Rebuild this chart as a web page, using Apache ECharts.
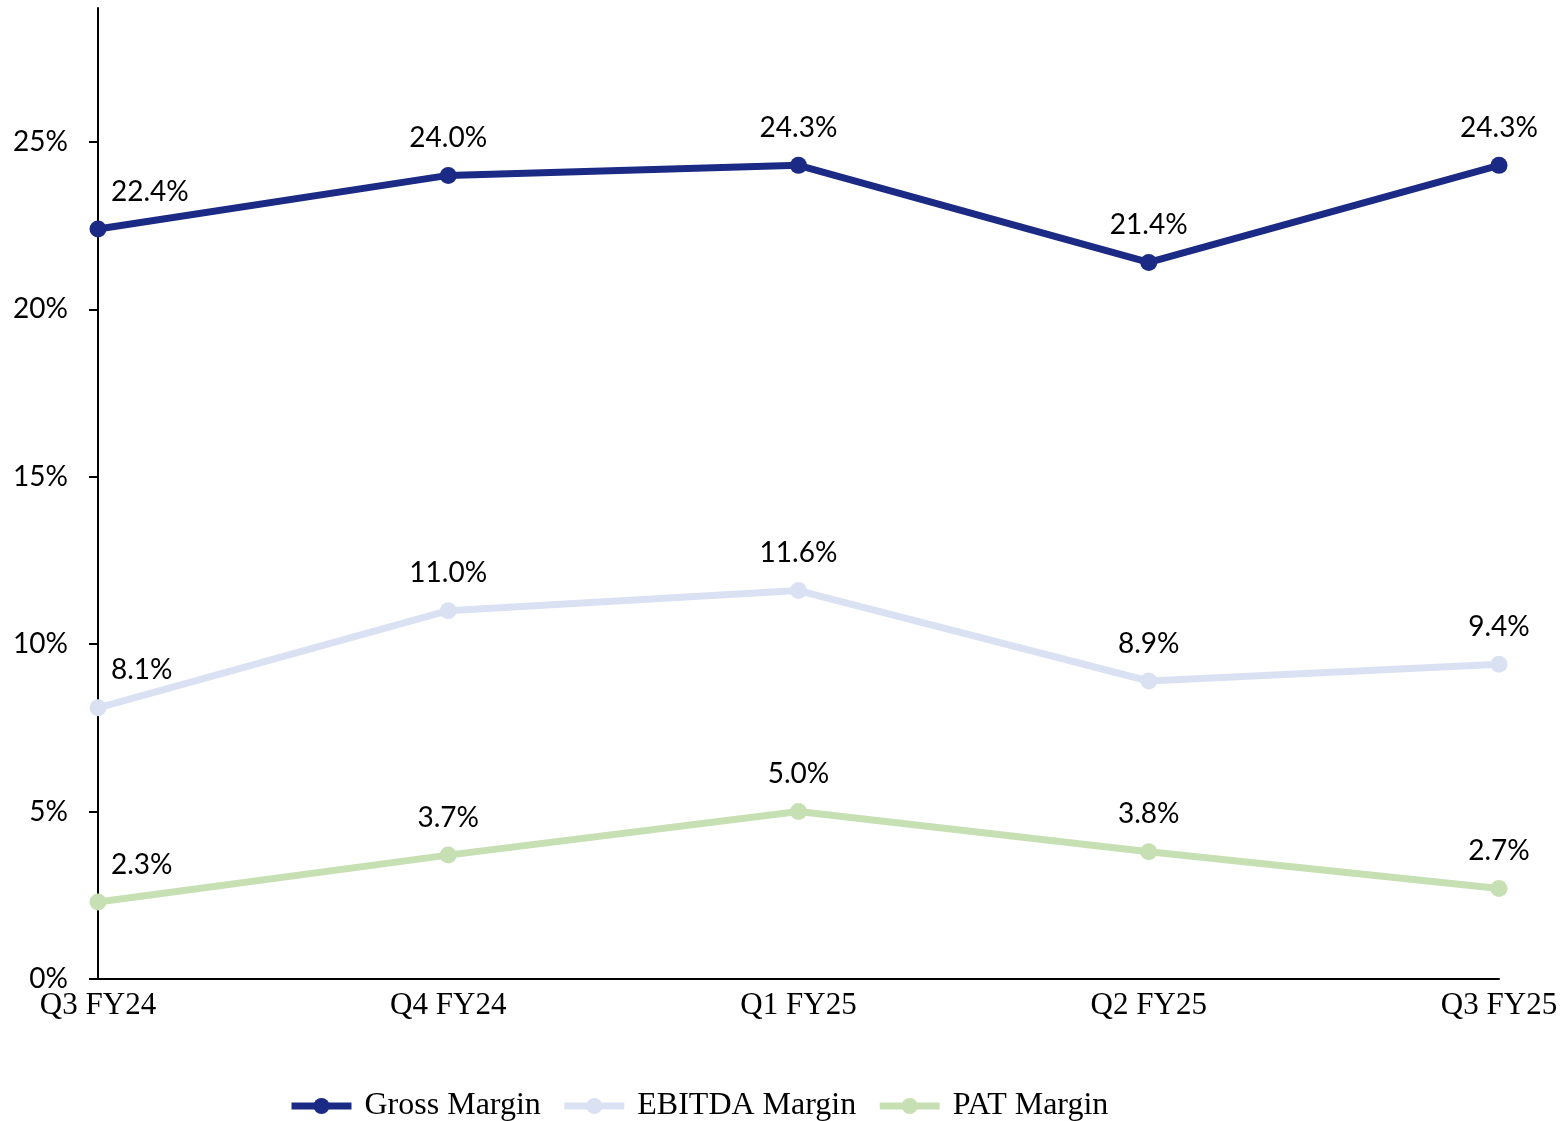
<!DOCTYPE html>
<html>
<head>
<meta charset="utf-8">
<title>Margins</title>
<script src="https://cdn.jsdelivr.net/npm/echarts@6/dist/echarts.min.js"></script>
<style>
  html, body { margin: 0; padding: 0; background: #fff; }
  #chart { width: 1562px; height: 1121px; }
</style>
</head>
<body>
<div id="chart"></div>
<script>
// quarters on the x axis
var quarters = ['Q3 FY24', 'Q4 FY24', 'Q1 FY25', 'Q2 FY25', 'Q3 FY25'];
// margins in %
var grossMargin = [22.4, 24.0, 24.3, 21.4, 24.3];
var ebitdaMargin = [8.1, 11.0, 11.6, 8.9, 9.4];
var patMargin = [2.3, 3.7, 5.0, 3.8, 2.7];
var yTicks = [0, 5, 10, 15, 20, 25];

var sansFont = 'Lato, "Liberation Sans", sans-serif';
var serifFont = '"Liberation Serif", "DejaVu Serif", serif';

// first point's label sits to the right of the axis
function withLabels(values) {
    var out = [];
    for (var i = 0; i < values.length; i++) {
        if (i == 0) {
            out.push({ value: values[i], label: { align: 'left', offset: [13, 0] } });
        } else {
            out.push(values[i]);
        }
    }
    return out;
}

function makeSeries(name, values, color) {
    return {
        name: name,
        type: 'line',
        data: withLabels(values),
        symbol: 'circle',
        symbolSize: 17,
        lineStyle: { color: color, width: 7 },
        itemStyle: { color: color },
        label: {
            show: true,
            position: 'top',
            distance: 15,
            color: '#000',
            fontFamily: sansFont,
            fontSize: 28,
            formatter: function (p) { return p.value.toFixed(1) + '%'; }
        }
    };
}

var myChart = echarts.init(document.getElementById('chart'));
var option = {
    animation: false,
    grid: { left: 98, right: 63, top: 8, bottom: 142, containLabel: false },
    legend: {
        left: 283,
        top: 1085,
        itemWidth: 60,
        itemHeight: 20,
        itemGap: 20,
        lineStyle: { width: 7 },
        textStyle: { fontFamily: serifFont, fontSize: 32, color: '#000', padding: [0, 0, 0, 8] },
        data: ['Gross Margin', 'EBITDA Margin', 'PAT Margin']
    },
    xAxis: {
        type: 'category',
        data: quarters,
        boundaryGap: false,
        axisLine: { lineStyle: { color: '#000', width: 2 } },
        axisTick: { show: false },
        axisLabel: { color: '#000', fontFamily: serifFont, fontSize: 31, margin: 11 }
    },
    yAxis: {
        type: 'value',
        min: 0,
        max: 29,
        interval: 5,
        splitLine: { show: false },
        axisLine: { show: true, lineStyle: { color: '#000', width: 2 } },
        axisTick: { show: true, length: 9, lineStyle: { color: '#000', width: 2 }, customValues: yTicks },
        axisLabel: {
            color: '#000',
            fontFamily: sansFont,
            fontSize: 28,
            margin: 30,
            customValues: yTicks,
            formatter: function (v) { return v + '%'; }
        }
    },
    series: [
        makeSeries('Gross Margin', grossMargin, '#1b2a84'),
        makeSeries('EBITDA Margin', ebitdaMargin, '#d9e1f2'),
        makeSeries('PAT Margin', patMargin, '#c6e0b4')
    ]
};
myChart.setOption(option);
</script>
</body>
</html>
